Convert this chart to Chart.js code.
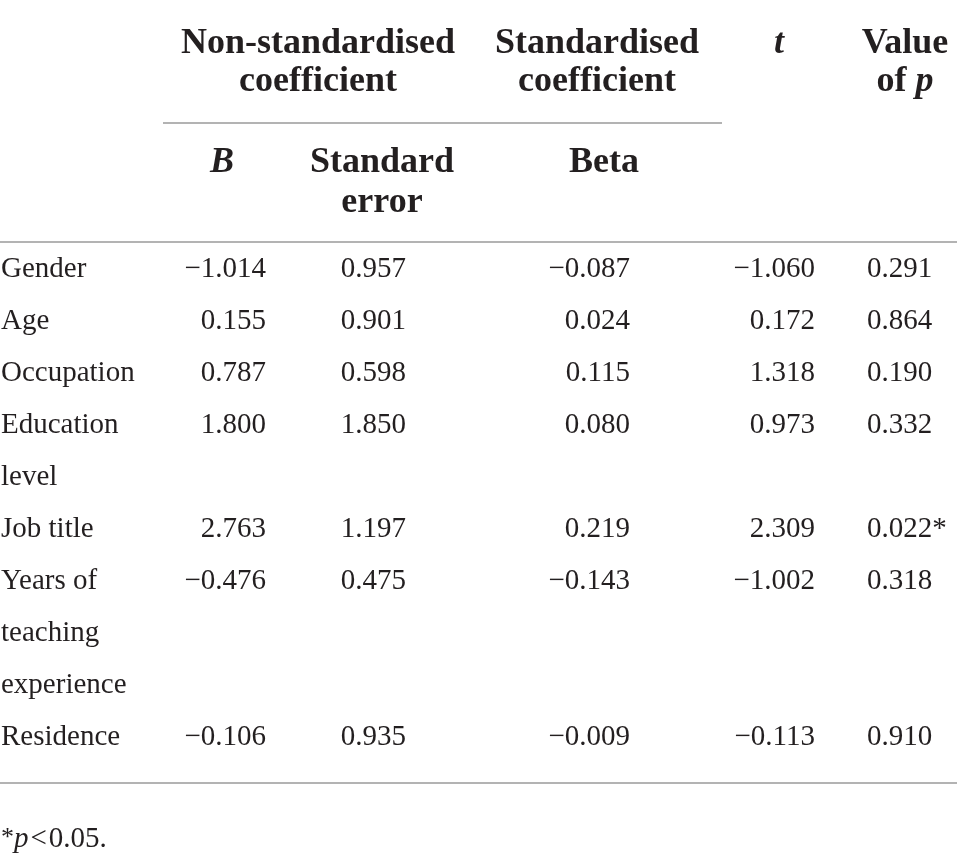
<!DOCTYPE html>
<html>
<head>
<meta charset="utf-8">
<script src="https://cdn.jsdelivr.net/npm/chart.js@4.4.0/dist/chart.umd.min.js"></script>
<style>
  html, body { margin: 0; padding: 0; background: #fff; }
  #table-chart { display: block; }
</style>
</head>
<body>
<canvas id="table-chart" width="957" height="863"></canvas>
<script>
// TABLE DATA
const variables = [
  ["Gender"],
  ["Age"],
  ["Occupation"],
  ["Education", "level"],
  ["Job title"],
  ["Years of", "teaching", "experience"],
  ["Residence"],
]
const coefB = [-1.014, 0.155, 0.787, 1.8, 2.763, -0.476, -0.106]
const stdError = [0.957, 0.901, 0.598, 1.85, 1.197, 0.475, 0.935]
const beta = [-0.087, 0.024, 0.115, 0.08, 0.219, -0.143, -0.009]
const tValues = [-1.06, 0.172, 1.318, 0.973, 2.309, -1.002, -0.113]
const pValues = [0.291, 0.864, 0.19, 0.332, 0.022, 0.318, 0.91]
const alpha = 0.05

// layout (canvas pixel units, read through the hidden x / y scales)
const ink = "#231f20"
const ruleColor = "#9a9a9a"
const serif = "'Liberation Serif', 'Times New Roman', serif"
const headFont = "bold 36px " + serif
const bodyFont = "29px " + serif
const firstRow = 277
const rowStep = 52
const columns = [
  { values: coefB, x: 266, align: "right" },
  { values: stdError, x: 406, align: "right" },
  { values: beta, x: 630, align: "right" },
  { values: tValues, x: 815, align: "right" },
  { values: pValues, x: 867, align: "left", star: true },
]
const headers = [
  { x: 318, y: 53, runs: [["Non-standardised"]] },
  { x: 318, y: 91, runs: [["coefficient"]] },
  { x: 597, y: 53, runs: [["Standardised"]] },
  { x: 597, y: 91, runs: [["coefficient"]] },
  { x: 779, y: 53, runs: [["t", true]] },
  { x: 905, y: 53, runs: [["Value"]] },
  { x: 905, y: 91, runs: [["of "], ["p", true]] },
  { x: 222, y: 172, runs: [["B", true]] },
  { x: 382, y: 172, runs: [["Standard"]] },
  { x: 382, y: 212, runs: [["error"]] },
  { x: 604, y: 172, runs: [["Beta"]] },
]
const rules = [
  { y: 123, from: 163, to: 722 },
  { y: 242, from: 0, to: 957 },
  { y: 783, from: 0, to: 957 },
]

function fmt(v) {
  return (v < 0 ? "\u2212" : "") + Math.abs(v).toFixed(3)
}

// draw a list of [text, italic] runs centred on x
function drawRuns(ctx, runs, cx, cy) {
  const fonts = runs.map((r) => (r[1] ? "italic " : "") + headFont)
  let total = 0
  const widths = runs.map((r, i) => {
    ctx.font = fonts[i]
    const w = ctx.measureText(r[0]).width
    total += w
    return w
  })
  let x = cx - total / 2
  runs.forEach((r, i) => {
    ctx.font = fonts[i]
    ctx.textAlign = "left"
    ctx.fillText(r[0], x, cy)
    x += widths[i]
  })
}

const tableText = {
  id: "tableText",
  afterDatasetsDraw(chart) {
    const ctx = chart.ctx
    const xs = chart.scales.x
    const ys = chart.scales.y
    ctx.save()
    ctx.fillStyle = ink
    ctx.textBaseline = "alphabetic"

    headers.forEach((h) => {
      drawRuns(ctx, h.runs, xs.getPixelForValue(h.x), ys.getPixelForValue(h.y))
    })

    ctx.font = bodyFont
    let line = 0
    variables.forEach((label, i) => {
      const base = firstRow + line * rowStep
      ctx.textAlign = "left"
      label.forEach((part, k) => {
        ctx.fillText(part, xs.getPixelForValue(1), ys.getPixelForValue(base + k * rowStep))
      })
      columns.forEach((col) => {
        const v = col.values[i]
        let txt = fmt(v)
        if (col.star && v < alpha) txt += "*"
        ctx.textAlign = col.align
        ctx.fillText(txt, xs.getPixelForValue(col.x), ys.getPixelForValue(base))
      })
      line += label.length
    })

    // footnote
    const fy = ys.getPixelForValue(847)
    let fx = xs.getPixelForValue(1)
    ctx.textAlign = "left"
    ctx.font = "26px " + serif
    ctx.fillText("*", fx, fy - 2)
    fx += ctx.measureText("*").width
    ctx.font = "italic 29px " + serif
    ctx.fillText("p", fx, fy)
    fx += ctx.measureText("p").width + 2
    ctx.font = "29px " + serif
    ctx.fillText("<", fx, fy)
    fx += ctx.measureText("<").width + 2
    ctx.fillText("0.05.", fx, fy)
    ctx.restore()
  },
}

const ruleSets = rules.map((r) => ({
  type: "line",
  data: [
    { x: r.from, y: r.y },
    { x: r.to, y: r.y },
  ],
  borderColor: ruleColor,
  borderWidth: 1.6,
  pointRadius: 0,
  fill: false,
}))

const tableChart = new Chart(document.getElementById("table-chart"), {
  type: "scatter",
  data: { datasets: ruleSets },
  options: {
    responsive: false,
    animation: false,
    events: [],
    layout: { padding: 0 },
    scales: {
      x: { type: "linear", min: 0, max: 957, display: false },
      y: { type: "linear", min: 0, max: 863, reverse: true, display: false },
    },
    plugins: {
      legend: { display: false },
      tooltip: { enabled: false },
    },
  },
  plugins: [tableText],
})
</script>
</body>
</html>
